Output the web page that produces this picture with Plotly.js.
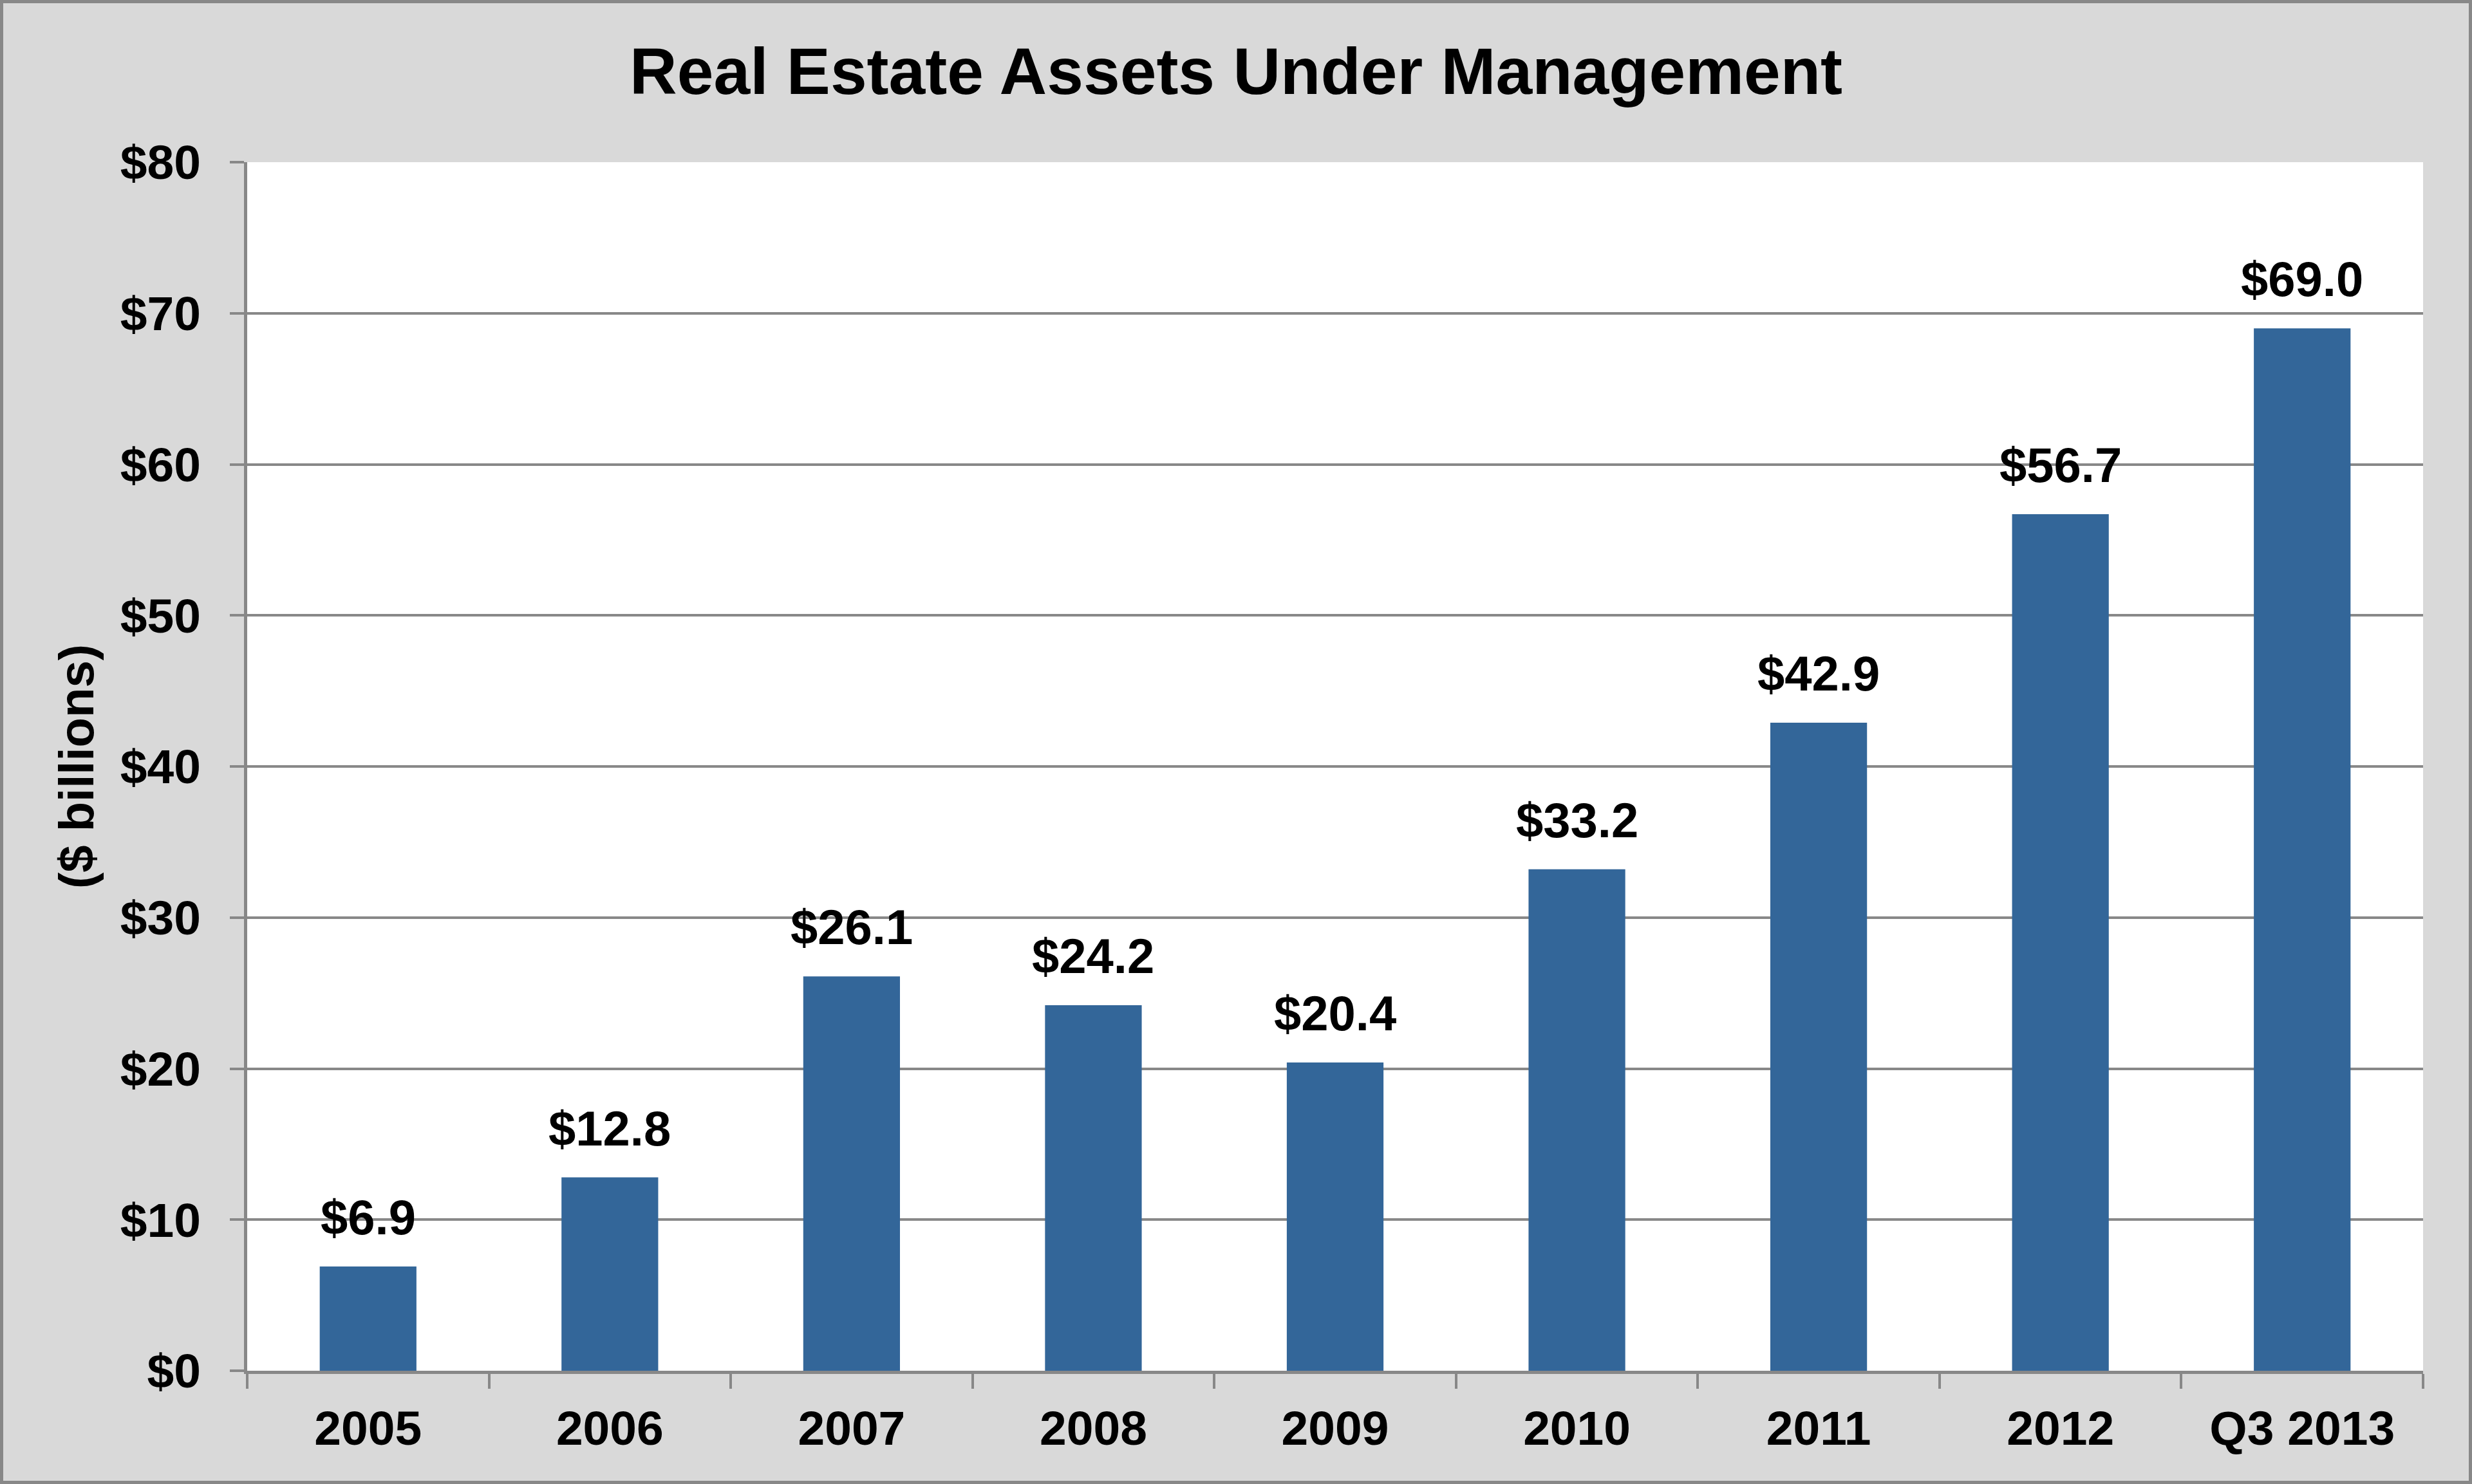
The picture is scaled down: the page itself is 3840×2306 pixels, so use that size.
<!DOCTYPE html>
<html>
<head>
<meta charset="utf-8">
<script src="https://cdn.plot.ly/plotly-3.0.1.min.js"></script>
<style>
html, body { margin: 0; padding: 0; background: #d9d9d9; }
#frame { width: 3840px; height: 2306px; box-sizing: border-box; border: 5px solid #888888; overflow: hidden; }
#chart { width: 3830px; height: 2296px; }
</style>
</head>
<body>
<div id="frame"><div id="chart"></div></div>
<script>
const categories = ["2005", "2006", "2007", "2008", "2009", "2010", "2011", "2012", "Q3 2013"];
const aumValues = [6.9, 12.8, 26.1, 24.2, 20.4, 33.2, 42.9, 56.7, 69.0];
const yTickValues = [0, 10, 20, 30, 40, 50, 60, 70, 80];
const yTickLabels = ["$0", "$10", "$20", "$30", "$40", "$50", "$60", "$70", "$80"];
const titleText = "Real Estate Assets Under Management";
const yTitleText = "($ billions)";

const FONT = "Liberation Sans, Arial, Helvetica, sans-serif";
const GRAY = "#888888";

const trace = {
  type: "bar",
  x: categories,
  y: aumValues,
  marker: { color: "#336699" },
  hoverinfo: "x+y"
};

// category axis: annotation x given as category index
const annotations = categories.map((c, i) => ({
  x: i,
  y: aumValues[i],
  xref: "x",
  yref: "y",
  text: "$" + aumValues[i].toFixed(1),
  showarrow: false,
  yanchor: "bottom",
  yshift: 32,
  font: { family: FONT, size: 76, color: "#000000", weight: "bold" }
}));

const layout = {
  width: 3830,
  height: 2296,
  paper_bgcolor: "#d9d9d9",
  plot_bgcolor: "#ffffff",
  margin: { l: 379, r: 71, t: 247, b: 171, pad: 0 },
  showlegend: false,
  bargap: 0.6,
  title: {
    text: titleText,
    font: { family: FONT, size: 102, color: "#000000", weight: "bold" },
    x: 0.5, xref: "container", xanchor: "center",
    y: 1 - 105 / 2296, yref: "container", yanchor: "middle"
  },
  xaxis: {
    type: "category",
    categoryorder: "array",
    categoryarray: categories,
    range: [-0.5, categories.length - 0.5],
    showgrid: false,
    showline: true,
    linecolor: GRAY,
    linewidth: 5,
    ticks: "outside",
    tickson: "boundaries",
    ticklen: 23,
    tickwidth: 4,
    tickcolor: GRAY,
    tickangle: 0,
    ticklabelstandoff: 20,
    tickfont: { family: FONT, size: 75, color: "#000000", weight: "bold" },
    fixedrange: true
  },
  yaxis: {
    range: [0, 80],
    tickvals: yTickValues,
    ticktext: yTickLabels,
    showgrid: true,
    gridcolor: GRAY,
    gridwidth: 4,
    zeroline: false,
    showline: true,
    linecolor: GRAY,
    linewidth: 5,
    ticks: "outside",
    ticklen: 22,
    tickwidth: 4,
    tickcolor: GRAY,
    ticklabelstandoff: 30,
    tickfont: { family: FONT, size: 75, color: "#000000", weight: "bold" },
    title: {
      text: yTitleText,
      font: { family: FONT, size: 76, color: "#000000", weight: "bold" },
      standoff: 18
    },
    fixedrange: true
  },
  annotations: annotations
};

Plotly.newPlot("chart", [trace], layout, { displayModeBar: false, staticPlot: true });
</script>
</body>
</html>
